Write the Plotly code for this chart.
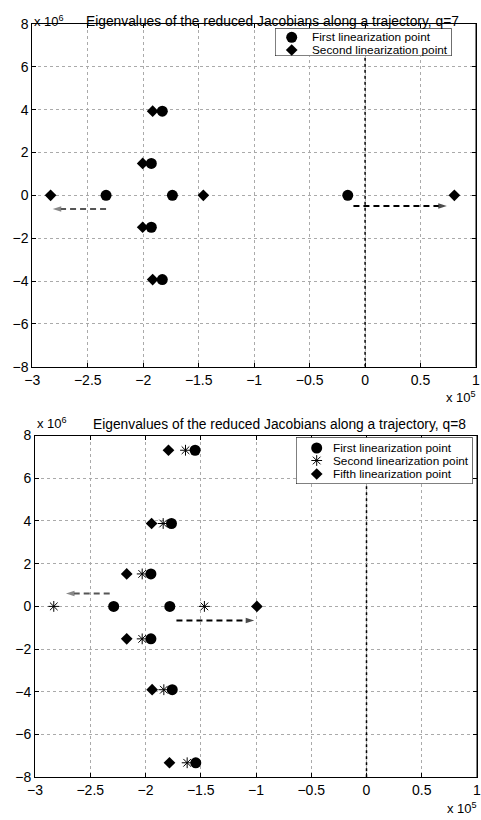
import plotly.graph_objects as go

# ---------------- data (x in units of 1e5, y in units of 1e6) ----------------
# q = 7
q7_first_x = [-2.335, -1.737, -0.156, -1.927, -1.927, -1.828, -1.828]
q7_first_y = [0.0, 0.0, 0.0, 1.49, -1.49, 3.93, -3.93]
q7_second_x = [-2.835, -1.458, 0.805, -2.005, -2.005, -1.915, -1.915]
q7_second_y = [0.0, 0.0, 0.0, 1.49, -1.49, 3.93, -3.93]

# q = 8
q8_first_x = [-1.551, -1.765, -1.951, -2.288, -1.780, -1.951, -1.758, -1.545]
q8_first_y = [7.31, 3.88, 1.52, 0.0, 0.0, -1.52, -3.90, -7.32]
q8_second_x = [-1.638, -1.840, -2.030, -2.830, -1.467, -2.030, -1.834, -1.623]
q8_second_y = [7.31, 3.88, 1.52, 0.0, 0.0, -1.52, -3.90, -7.32]
q8_fifth_x = [-1.792, -1.945, -2.170, -0.992, -2.170, -1.940, -1.783]
q8_fifth_y = [7.31, 3.88, 1.52, 0.0, -1.52, -3.90, -7.32]

# dashed arrows showing the eigenvalue shift: start x, end x, y
q7_arrows_x0 = [-2.335, -0.105]
q7_arrows_x1 = [-2.816, 0.737]
q7_arrows_y = [-0.64, -0.50]
q8_arrows_x0 = [-2.324, -1.720]
q8_arrows_x1 = [-2.720, -1.016]
q8_arrows_y = [0.60, -0.66]
arrow_colors = ["#555555", "#000000"]

x_ticks = [-3, -2.5, -2, -1.5, -1, -0.5, 0, 0.5, 1]
x_ticklabels = ["\u22123", "\u22122.5", "\u22122", "\u22121.5", "\u22121", "\u22120.5", "0", "0.5", "1"]
y_ticks = [-8, -6, -4, -2, 0, 2, 4, 6, 8]
y_ticklabels = ["\u22128", "\u22126", "\u22124", "\u22122", "0", "2", "4", "6", "8"]

titles = ["Eigenvalues of the reduced Jacobians along a trajectory, q=7",
          "Eigenvalues of the reduced Jacobians along a trajectory, q=8"]
q7_legend = ["First linearization point", "Second linearization point"]
q8_legend = ["First linearization point", "Second linearization point", "Fifth linearization point"]

FONT = "Liberation Sans, Arial, Helvetica, sans-serif"
W, H = 481, 820

fig = go.Figure()

circle = dict(symbol="circle", size=11, color="black", line=dict(width=0))
diamond = dict(symbol="diamond", size=9, color="black", line=dict(width=0))
star = dict(symbol="asterisk-open", size=9, color="black", line=dict(width=1, color="black"))

# ---------- imaginary axis (dotted vertical line at x = 0) ----------
for xr, yr in [("x", "y"), ("x2", "y2")]:
    fig.add_trace(go.Scatter(x=[0, 0], y=[-8, 8], mode="lines", xaxis=xr, yaxis=yr,
                             line=dict(color="black", width=1.5, dash="dot"),
                             showlegend=False, hoverinfo="skip"))

# ---------- right-hand frame edge of each plot (drawn at the x-range end) ----------
x_range = [-3, 1]
y_range = [-8, 8]
for xr, yr in [("x", "y"), ("x2", "y2")]:
    fig.add_trace(go.Scatter(x=[x_range[1], x_range[1]], y=y_range, mode="lines",
                             xaxis=xr, yaxis=yr, cliponaxis=False,
                             line=dict(color="black", width=1),
                             showlegend=False, hoverinfo="skip"))

# ---------- dashed arrows ----------
for (xr, yr, xs0, xs1, ys) in [("x", "y", q7_arrows_x0, q7_arrows_x1, q7_arrows_y),
                               ("x2", "y2", q8_arrows_x0, q8_arrows_x1, q8_arrows_y)]:
    for a0, a1, yy, col in zip(xs0, xs1, ys, arrow_colors):
        fig.add_trace(go.Scatter(x=[a0, a1], y=[yy, yy], mode="lines+markers",
                                 xaxis=xr, yaxis=yr,
                                 line=dict(color=col, width=2, dash="6px,4px"),
                                 marker=dict(symbol=["circle", "arrow"], size=[0, 9],
                                             angleref="previous", color=col,
                                             line=dict(width=0)),
                                 showlegend=False, hoverinfo="skip"))

# ---------- eigenvalue markers ----------
fig.add_trace(go.Scatter(x=q7_first_x, y=q7_first_y, mode="markers", marker=circle,
                         name=q7_legend[0], xaxis="x", yaxis="y", showlegend=False))
fig.add_trace(go.Scatter(x=q7_second_x, y=q7_second_y, mode="markers", marker=diamond,
                         name=q7_legend[1], xaxis="x", yaxis="y", showlegend=False))
fig.add_trace(go.Scatter(x=q8_first_x, y=q8_first_y, mode="markers", marker=circle,
                         name=q8_legend[0], xaxis="x2", yaxis="y2", showlegend=False))
fig.add_trace(go.Scatter(x=q8_second_x, y=q8_second_y, mode="markers", marker=star,
                         name=q8_legend[1], xaxis="x2", yaxis="y2", showlegend=False))
fig.add_trace(go.Scatter(x=q8_fifth_x, y=q8_fifth_y, mode="markers", marker=diamond,
                         name=q8_legend[2], xaxis="x2", yaxis="y2", showlegend=False))

# ---------- compact MATLAB-style legends (own small subplots, pixel ranges) ----------
leg_top_box = (275, 451.7, 28.3, 56)       # x0, x1, y0, y1 in page pixels
leg_top_rows = [37.3, 50]
leg_top_mx, leg_top_tx = 291.7, 310
leg_bot_box = (296, 472.7, 437.3, 484)
leg_bot_rows = [448, 460.5, 474]
leg_bot_mx, leg_bot_tx = 316.7, 330.7

for (xr, yr, box, rows, mx, tx, labels, syms) in [
        ("x3", "y3", leg_top_box, leg_top_rows, leg_top_mx, leg_top_tx, q7_legend, [circle, diamond]),
        ("x4", "y4", leg_bot_box, leg_bot_rows, leg_bot_mx, leg_bot_tx, q8_legend, [circle, star, diamond])]:
    fig.add_shape(type="rect", xref=xr, yref=yr, x0=box[0], x1=box[1], y0=box[2], y1=box[3],
                  fillcolor="white", line=dict(color="black", width=1), layer="below")
    for r, lab, sym in zip(rows, labels, syms):
        fig.add_trace(go.Scatter(x=[mx], y=[r], mode="markers", marker=sym, xaxis=xr, yaxis=yr,
                                 showlegend=False, hoverinfo="skip"))
        fig.add_annotation(xref=xr, yref=yr, x=tx, y=r, text=lab, xanchor="left", yanchor="middle",
                           showarrow=False, font=dict(size=11.8, family=FONT, color="black"))

axis_common = dict(range=x_range, tickvals=x_ticks, ticktext=x_ticklabels,
                   showline=True, linecolor="black", linewidth=1, mirror="allticks",
                   ticks="inside", ticklen=4, tickcolor="black", ticklabeloverflow="allow",
                   showgrid=True, gridcolor="#aaaaaa", griddash="dot", gridwidth=1,
                   zeroline=False, tickfont=dict(size=14, color="black", family=FONT))
yaxis_common = dict(range=y_range, tickvals=y_ticks, ticktext=y_ticklabels,
                    showline=True, linecolor="black", linewidth=1, mirror="allticks",
                    ticks="inside", ticklen=4, tickcolor="black", ticklabeloverflow="allow",
                    showgrid=True, gridcolor="#aaaaaa", griddash="dot", gridwidth=1,
                    zeroline=False, tickfont=dict(size=14, color="black", family=FONT))
hidden = dict(visible=False, showgrid=False, zeroline=False, fixedrange=True)

top_x = [32.3 / W, 476 / W]
top_y = [1 - 366.7 / H, 1 - 24 / H]
bot_x = [35 / W, 477 / W]
bot_y = [1 - 777.3 / H, 1 - 435.5 / H]

fig.update_layout(
    width=W, height=H, margin=dict(l=0, r=0, t=0, b=0, autoexpand=False),
    paper_bgcolor="white", plot_bgcolor="rgba(0,0,0,0)",
    font=dict(family=FONT, color="black"),
    showlegend=False,
    xaxis=dict(domain=top_x, anchor="y", **axis_common),
    yaxis=dict(domain=top_y, anchor="x", **yaxis_common),
    xaxis2=dict(domain=bot_x, anchor="y2", **axis_common),
    yaxis2=dict(domain=bot_y, anchor="x2", **yaxis_common),
    xaxis3=dict(domain=[leg_top_box[0] / W, leg_top_box[1] / W], anchor="y3",
                range=[leg_top_box[0], leg_top_box[1]], **hidden),
    yaxis3=dict(domain=[1 - leg_top_box[3] / H, 1 - leg_top_box[2] / H], anchor="x3",
                range=[leg_top_box[3], leg_top_box[2]], **hidden),
    xaxis4=dict(domain=[leg_bot_box[0] / W, leg_bot_box[1] / W], anchor="y4",
                range=[leg_bot_box[0], leg_bot_box[1]], **hidden),
    yaxis4=dict(domain=[1 - leg_bot_box[3] / H, 1 - leg_bot_box[2] / H], anchor="x4",
                range=[leg_bot_box[3], leg_bot_box[2]], **hidden),
)

# titles and exponent labels
fig.add_annotation(xref="paper", yref="paper", x=272 / W, y=1 - 11.5 / H, text=titles[0],
                   showarrow=False, font=dict(size=13.8, family=FONT, color="black"))
fig.add_annotation(xref="paper", yref="paper", x=279 / W, y=1 - 424 / H, text=titles[1],
                   showarrow=False, font=dict(size=13.8, family=FONT, color="black"))
for (xx, yy) in [(32, 11), (35, 423)]:
    fig.add_annotation(xref="paper", yref="paper", x=xx / W, y=1 - yy / H, xanchor="left",
                       text="x 10<sup>6</sup>", showarrow=False,
                       font=dict(size=13, family=FONT, color="black"))
for (xx, yy) in [(478, 387), (479, 798)]:
    fig.add_annotation(xref="paper", yref="paper", x=xx / W, y=1 - yy / H, xanchor="right",
                       yanchor="top", text="x 10<sup>5</sup>", showarrow=False,
                       font=dict(size=13, family=FONT, color="black"))

fig.write_html("out.html")
